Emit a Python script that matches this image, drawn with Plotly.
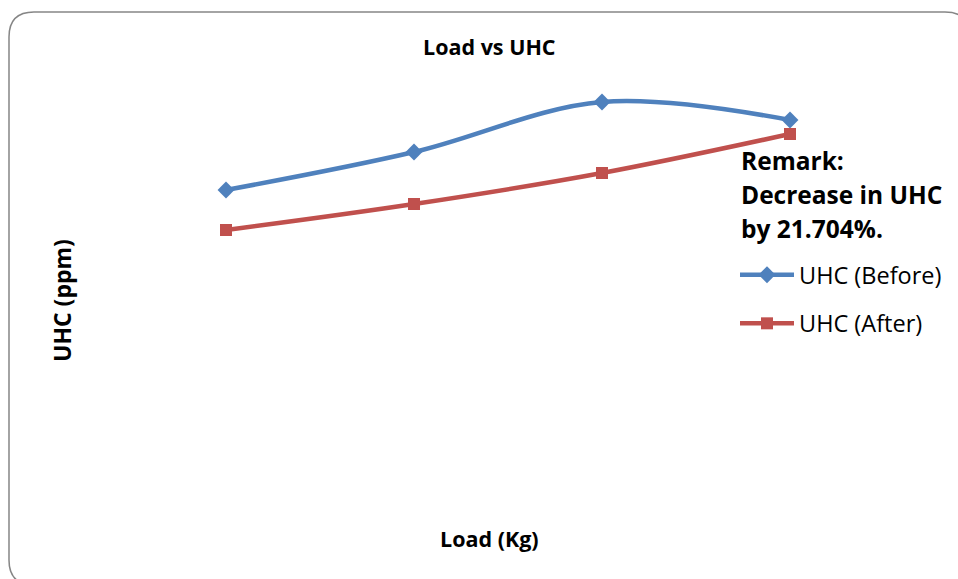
import plotly.graph_objects as go

# Load steps (category positions) and unburnt hydrocarbon readings
loads = [1, 2, 3, 4]
uhc_before = [77.5, 87, 99.5, 95]
uhc_after = [67.5, 74, 81.75, 91.5]

remark_lines = ["Remark:", "Decrease in UHC", "by 21.704%."]

W, H = 958, 579


def px(x):
    return x / W


def py(y):
    return 1 - y / H


fig = go.Figure()
fig.add_trace(go.Scatter(
    x=loads, y=uhc_before, name="UHC (Before)", mode="lines+markers",
    line=dict(color="#4F81BD", width=4.5, shape="spline", smoothing=1),
    marker=dict(symbol="diamond", size=13, color="#4F81BD"),
    legendgroup="a",
))
fig.add_trace(go.Scatter(
    x=loads, y=uhc_after, name="UHC (After)", mode="lines+markers",
    line=dict(color="#C0504D", width=4.5, shape="spline", smoothing=1),
    marker=dict(symbol="square", size=12, color="#C0504D"),
    legendgroup="b",
))

# rounded chart border
x0, y0, x1, y1, r = 9, 12, 970, 585, 25
pts = [
    ("M", x0, y0 + r), ("Q", x0, y0, x0 + r, y0), ("L", x1 - r, y0),
    ("Q", x1, y0, x1, y0 + r), ("L", x1, y1 - r), ("Q", x1, y1, x1 - r, y1),
    ("L", x0 + r, y1), ("Q", x0, y1, x0, y1 - r),
]
path = ""
for p in pts:
    cmd, coords = p[0], p[1:]
    xy = []
    for i in range(0, len(coords), 2):
        xy.append(f"{px(coords[i]):.5f},{py(coords[i + 1]):.5f}")
    path += cmd + " " + " ".join(xy) + " "
path += "Z"

font = "Open Sans"
label_font = dict(family=font, size=21.5, color="black")

annotations = [
    dict(text="<b>Load vs UHC</b>", x=px(489), y=py(47), font=label_font),
    dict(text="<b>Load (Kg)</b>", x=px(489), y=py(538), font=label_font),
    dict(text="<b>UHC (ppm)</b>", x=px(62), y=py(300), textangle=-90,
         font=dict(family=font, size=23, color="black")),
]
for i, line in enumerate(remark_lines):
    annotations.append(dict(
        text=f"<b>{line}</b>", x=px(739), y=py(160.5 + 34 * i), xanchor="left",
        font=dict(family=font, size=24.5, color="black"),
    ))
for a in annotations:
    a.update(xref="paper", yref="paper", showarrow=False, yanchor="middle")
    a.setdefault("xanchor", "center")

fig.update_layout(
    width=W, height=H,
    margin=dict(l=0, r=0, t=0, b=0),
    paper_bgcolor="white", plot_bgcolor="white",
    showlegend=True,
    legend=dict(
        x=px(735), y=py(253), xanchor="left", yanchor="top",
        font=dict(family=font, size=23.5, color="black"),
        itemwidth=54, tracegroupgap=15, bgcolor="rgba(0,0,0,0)",
    ),
    xaxis=dict(domain=[px(132), px(884)], range=[0.5, 4.5], visible=False),
    yaxis=dict(domain=[py(500), py(60)], range=[0, 110], visible=False),
    shapes=[dict(type="path", xref="paper", yref="paper", path=path,
                 line=dict(color="#868686", width=1.5))],
    annotations=annotations,
)

fig.write_html("out.html")
